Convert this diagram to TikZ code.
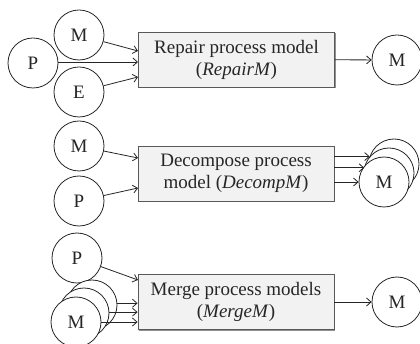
\documentclass[tikz,border=0pt]{standalone}
\usepackage{fontspec}
\setmainfont{Liberation Serif}
\usetikzlibrary{arrows.meta,shadows}
\begin{document}
\begin{tikzpicture}[x=1pt,y=-1pt,
  every node/.style={font=\fontsize{19}{22}\selectfont},
  circ/.style={draw=black!85,line width=0.8pt,circle,minimum size=50pt,inner sep=0pt,fill=white,text=black!85},
  procbox/.style={draw=black!65,line width=0.9pt,fill=black!5,minimum width=196pt,minimum height=55pt,align=center,inner sep=0pt,text=black!85,
    drop shadow={shadow xshift=1.3pt,shadow yshift=-1.3pt,fill=black!55,opacity=0.8}},
  arr/.style={draw=black!85,line width=0.8pt,-{Straight Barb[length=4.5pt,width=8pt]}}]
\useasboundingbox (0,0) rectangle (420,344);
% --- Repair ---
\node[procbox] (b1) at (236.5,59.5) {Repair process model\\(\textit{RepairM})};
\node[circ] (m1) at (79,35) {M};
\node[circ] (p1) at (33,63) {P};
\node[circ] (e1) at (79,92) {E};
\node[circ] (o1) at (397,60) {M};
\coordinate (t1a) at (138,51);
\coordinate (t1b) at (138,62);
\coordinate (t1c) at (138,77);
\draw[arr] (m1) -- (t1a);
\draw[arr] (p1.east |- t1b) -- (t1b);
\draw[arr] (e1) -- (t1c);
\draw[arr] (b1) -- (o1);
% --- Decompose ---
\node[procbox] (b2) at (236,173.5) {Decompose process\\model (\textit{DecompM})};
\node[circ] (m2) at (79,146) {M};
\node[circ] (p2) at (79,201) {P};
\coordinate (t2a) at (138,158);
\coordinate (t2b) at (138,188);
\draw[arr] (m2) -- (t2a);
\draw[arr] (p2) -- (t2b);
\node[circ] (d1) at (394,164) {};
\node[circ] (d2) at (389,173) {};
\node[circ] (d3) at (384,182) {M};
\draw[arr] (b2.east |- d1.163.7) -- (d1.163.7);
\draw[arr] (b2.east |- d2.168.5) -- (d2.168.5);
\draw[arr] (b2.east |- d3.180) -- (d3.180);
% --- Merge ---
\node[procbox] (b3) at (236,302) {Merge process models\\(\textit{MergeM})};
\node[circ] (p3) at (77,258) {P};
\coordinate (t3a) at (138,280);
\draw[arr] (p3) -- (t3a);
\node[circ] (s1) at (92,305) {};
\node[circ] (s2) at (84,313) {};
\node[circ] (s3) at (76,322) {M};
\draw[arr] (s1.4.6) -- (b3.west |- s1.4.6);
\draw[arr] (s2.2.3) -- (b3.west |- s2.2.3);
\draw[arr] (s3.0) -- (b3.west |- s3.0);
\node[circ] (o3) at (397,302) {M};
\draw[arr] (b3) -- (o3);
\end{tikzpicture}
\end{document}
